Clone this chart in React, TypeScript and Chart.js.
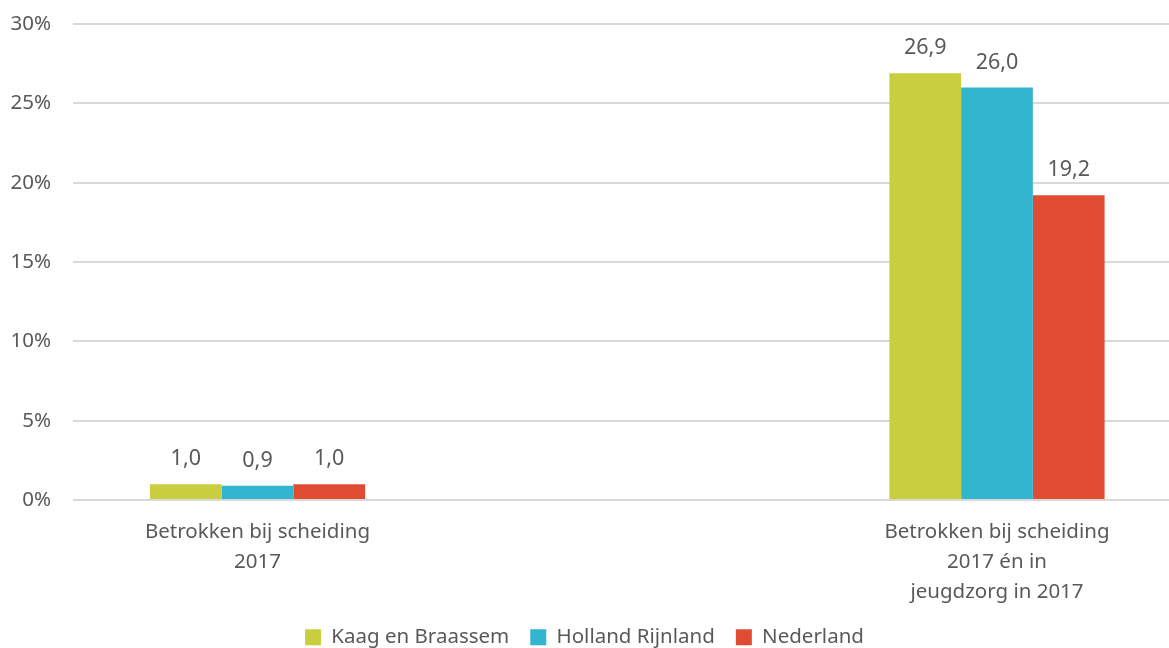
import React, { useEffect, useRef } from "react";
import { Chart, registerables } from "chart.js";

Chart.register(...registerables);

const categories: string[][] = [
  ["Betrokken bij scheiding", "2017"],
  ["Betrokken bij scheiding", "2017 én in", "jeugdzorg in 2017"],
];
const seriesNames = ["Kaag en Braassem", "Holland Rijnland", "Nederland"];
const kaag = [1.0, 26.9];
const hollandRijnland = [0.9, 26.0];
const nederland = [1.0, 19.2];
const yTicks = [0, 5, 10, 15, 20, 25, 30];

const colors = ["#C9CE3E", "#32B5CF", "#E04C31"];
const textColor = "#595959";
const fontFamily = "'Noto Sans', sans-serif";

const dataLabelPlugin = {
  id: "dataLabels",
  afterDatasetsDraw(chart: any) {
    const ctx = chart.ctx;
    ctx.save();
    ctx.font = `21.5px ${fontFamily}`;
    ctx.fillStyle = textColor;
    ctx.textAlign = "center";
    ctx.textBaseline = "middle";
    chart.data.datasets.forEach((ds: any, di: number) => {
      const meta = chart.getDatasetMeta(di);
      meta.data.forEach((bar: any, i: number) => {
        const v = ds.data[i].y;
        const label = v.toFixed(1).replace(".", ",");
        ctx.fillText(label, bar.x, bar.y - 25);
      });
    });
    ctx.restore();
  },
};

export default function App() {
  const ref = useRef<HTMLCanvasElement | null>(null);
  useEffect(() => {
    if (!ref.current) return;
    const series = [kaag, hollandRijnland, nederland];
    const chart = new Chart(ref.current, {
      type: "bar",
      data: {
        datasets: series.map((vals, si) => ({
          label: seriesNames[si],
          data: vals.map((v, i) => ({ x: i, y: v })),
          backgroundColor: colors[si],
          borderWidth: 0,
          categoryPercentage: 0.291,
          barPercentage: 1.0,
        })),
      },
      options: {
        animation: false,
        responsive: false,
        maintainAspectRatio: false,
        layout: { padding: { top: 24, right: 0, left: 0, bottom: -9.5 } },
        plugins: {
          legend: {
            position: "bottom",
            labels: {
              boxWidth: 16,
              boxHeight: 16,
              padding: 21,
              color: textColor,
              font: { family: fontFamily, size: 20.5 },
            },
          },
          tooltip: { enabled: false },
        },
        scales: {
          x: {
            type: "linear",
            offset: false,
            min: -0.2495,
            max: 1.2326,
            grid: { display: false },
            border: { display: false },
            afterBuildTicks: (scale: any) => {
              scale.ticks = categories.map((_, i) => ({ value: i }));
            },
            afterFit: (scale: any) => {
              scale.height = 106;
            },
            ticks: {
              autoSkip: false,
              maxRotation: 0,
              padding: 9,
              color: textColor,
              font: { family: fontFamily, size: 20.5, lineHeight: 1.463 },
              callback: (value: any) => categories[value as number] ?? "",
            },
          },
          y: {
            min: 0,
            max: 30,
            afterBuildTicks: (scale: any) => {
              scale.ticks = yTicks.map((v) => ({ value: v }));
            },
            afterFit: (scale: any) => {
              scale.width = 73;
              scale.paddingTop = 0;
              scale.paddingBottom = 0;
            },
            grid: { color: "#D9D9D9", lineWidth: 2, drawTicks: false },
            border: { display: false },
            ticks: {
              padding: 22,
              color: textColor,
              font: { family: fontFamily, size: 20.5 },
              callback: (value: any) => `${value}%`,
            },
          },
        },
      },
      plugins: [dataLabelPlugin],
    });
    return () => chart.destroy();
  }, []);
  return (
    <div style={{ position: "absolute", left: 0, top: 0, width: 1169, height: 648, background: "#fff" }}>
      <canvas ref={ref} width={1169} height={648} style={{ width: 1169, height: 648 }} />
    </div>
  );
}
